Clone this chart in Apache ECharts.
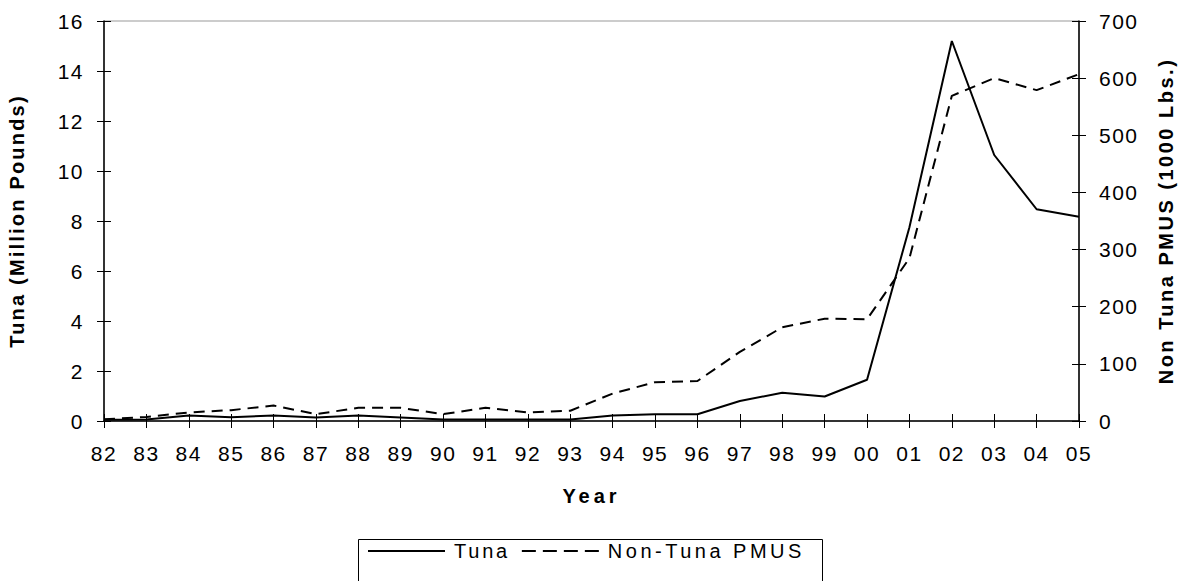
<!DOCTYPE html>
<html>
<head>
<meta charset="utf-8">
<script src="https://cdn.jsdelivr.net/npm/echarts@6/dist/echarts.min.js"></script>
<style>
html,body{margin:0;padding:0;background:#fff;}
#chart{width:1188px;height:581px;}
</style>
</head>
<body>
<div id="chart"></div>
<script>
// ---- data ----
var years = ['82','83','84','85','86','87','88','89','90','91','92','93','94','95','96','97','98','99','00','01','02','03','04','05'];
var tuna = [0.05, 0.06, 0.22, 0.15, 0.22, 0.14, 0.22, 0.14, 0.06, 0.06, 0.06, 0.06, 0.22, 0.27, 0.27, 0.8, 1.13, 0.98, 1.65, 7.75, 15.2, 10.64, 8.47, 8.17];
var nonTuna = [3, 7, 15, 19, 27, 12, 23, 23, 12, 23, 15, 18, 48, 68, 70, 121, 164, 179, 178, 285, 569, 600, 579, 607];
var leftTitle = 'Tuna (Million Pounds)';
var rightTitle = 'Non Tuna PMUS (1000 Lbs.)';
var xTitle = 'Year';
var seriesNames = ['Tuna', 'Non-Tuna PMUS'];

var FONT = 'Arial, "Liberation Sans", sans-serif';
var chart = echarts.init(document.getElementById('chart'), null, {renderer: 'svg'});

function yBase(pos, min, max, interval, name) {
  return {
    type: 'value', position: pos, min: min, max: max, interval: interval,
    name: name, nameLocation: 'middle', nameGap: 77, nameRotate: 90,
    nameTextStyle: {fontFamily: FONT, fontSize: 20, fontWeight: 'bold', color: '#000'},
    axisLine: {show: true, lineStyle: {color: '#000', width: 1.5}},
    axisTick: {show: true, length: 7, lineStyle: {color: '#000', width: 1}},
    axisLabel: {fontFamily: FONT, fontSize: 21, color: '#000', margin: 20},
    splitLine: {show: false}
  };
}
function yInner(pos, min, max, interval) {
  return {
    type: 'value', position: pos, min: min, max: max, interval: interval,
    axisLine: {show: false},
    axisTick: {show: true, inside: true, length: 7, lineStyle: {color: '#000', width: 1}},
    axisLabel: {show: false}, splitLine: {show: false}
  };
}

var solidIcon = 'path://M0,0h77v2h-77z';
var dashIcon = 'path://M0,0h14v2h-14zM21,0h14v2h-14zM42,0h14v2h-14zM63,0h14v2h-14z';

var option = {
  backgroundColor: '#fff',
  animation: false,
  grid: {
    left: 104, right: 109, top: 21, bottom: 160,
    containLabel: false, outerBoundsMode: 'none',
    show: true, borderColor: '#999', borderWidth: 1
  },
  legend: {
    data: [{name: seriesNames[0], icon: solidIcon}, {name: seriesNames[1], icon: dashIcon}],
    left: 368, top: 541, orient: 'horizontal',
    itemWidth: 77, itemHeight: 14, itemGap: 23, padding: 0,
    textStyle: {fontFamily: FONT, fontSize: 20, color: '#000', padding: [0, 0, 0, 4]}
  },
  graphic: [{
    type: 'rect', silent: true, z: 100,
    shape: {x: 358.5, y: 539.5, width: 464, height: 80},
    style: {fill: 'none', stroke: '#000', lineWidth: 1}
  }],
  xAxis: [{
    type: 'category', data: years, boundaryGap: false, position: 'bottom',
    name: xTitle, nameLocation: 'middle', nameGap: 65,
    nameTextStyle: {fontFamily: FONT, fontSize: 20, fontWeight: 'bold', color: '#000'},
    axisLine: {show: true, lineStyle: {color: '#000', width: 1.5}},
    axisTick: {show: true, length: 7, interval: 0, lineStyle: {color: '#000', width: 1}},
    axisLabel: {fontFamily: FONT, fontSize: 21, color: '#000', margin: 22, interval: 0},
    splitLine: {show: false}
  }, {
    type: 'category', data: years, boundaryGap: false, position: 'bottom',
    axisLine: {show: false},
    axisTick: {show: true, inside: true, length: 7, interval: 0, lineStyle: {color: '#000', width: 1}},
    axisLabel: {show: false}, splitLine: {show: false}
  }],
  yAxis: [
    yBase('left', 0, 16, 2, leftTitle),
    yBase('right', 0, 700, 100, rightTitle),
    yInner('left', 0, 16, 2),
    yInner('right', 0, 700, 100)
  ],
  series: [{
    name: seriesNames[0], type: 'line', data: tuna, xAxisIndex: 0, yAxisIndex: 0,
    symbol: 'none', lineStyle: {color: '#000', width: 2, type: 'solid'}, itemStyle: {color: '#000'}
  }, {
    name: seriesNames[1], type: 'line', data: nonTuna, xAxisIndex: 0, yAxisIndex: 1,
    symbol: 'none', lineStyle: {color: '#000', width: 2, type: [11, 7]}, itemStyle: {color: '#000'}
  }]
};
chart.setOption(option);

var spacing = {};
spacing[leftTitle] = 2.2;
spacing[rightTitle] = 2.5;
spacing[xTitle] = 4;
spacing[seriesNames[0]] = 2.8;
spacing[seriesNames[1]] = 3.5;
function applySpacing() {
  var texts = chart.getDom().querySelectorAll('text');
  for (var i = 0; i < texts.length; i++) {
    var t = texts[i].textContent;
    var s = null;
    if (spacing.hasOwnProperty(t)) s = spacing[t];
    else if (/^\d+$/.test(t)) s = 1.5;
    if (s !== null) {
      texts[i].setAttribute('letter-spacing', s + 'px');
      texts[i].style.letterSpacing = s + 'px';
    }
  }
}
chart.on('finished', applySpacing);
applySpacing();
setTimeout(applySpacing, 50);
setTimeout(applySpacing, 300);
</script>
</body>
</html>
